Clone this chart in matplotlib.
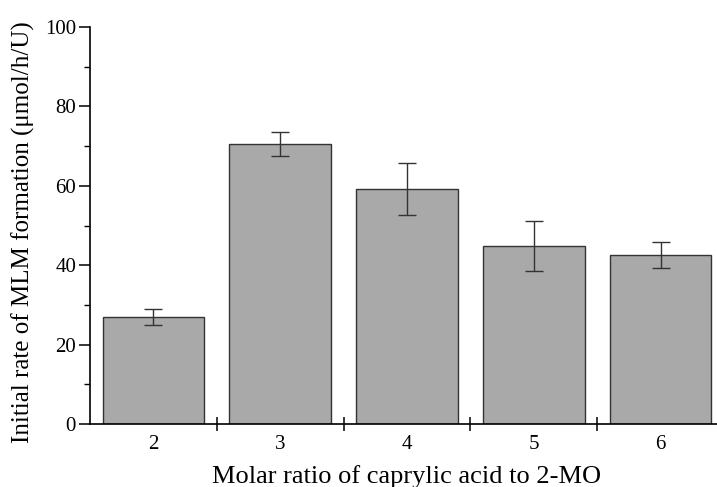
import matplotlib
matplotlib.use("Agg")
import matplotlib.pyplot as plt
from matplotlib.ticker import MultipleLocator, FixedLocator

categories = ["2", "3", "4", "5", "6"]
rates = [27.0, 70.6, 59.2, 44.9, 42.6]
errors = [2.0, 3.0, 6.6, 6.3, 3.3]

plt.rcParams['font.family'] = ['Liberation Serif', 'DejaVu Serif']

fig = plt.figure(figsize=(7.17, 4.87), dpi=100)
ax = fig.add_axes([90/717, 63/487, 634/717, 397/487])

x = list(range(2, 2 + len(categories)))
ax.bar(x, rates, width=0.8, color="#a9a9a9", edgecolor="#333333", linewidth=1.0,
       yerr=errors, capsize=6.5,
       error_kw=dict(ecolor="#333333", elinewidth=1.0, capthick=1.0))

ax.set_xlim(1.5, 6.5)
ax.set_ylim(0, 100)
ax.spines['top'].set_visible(False)
ax.spines['right'].set_visible(False)
ax.spines['left'].set_linewidth(1.2)
ax.spines['bottom'].set_linewidth(1.2)

ax.set_xticks(x)
ax.set_xticklabels(categories)
ax.xaxis.set_minor_locator(FixedLocator([2.5, 3.5, 4.5, 5.5]))
ax.tick_params(axis='x', which='major', length=0, pad=8, labelsize=15)
ax.tick_params(axis='x', which='minor', direction='inout', length=10, width=1.1)

ax.yaxis.set_major_locator(MultipleLocator(20))
ax.yaxis.set_minor_locator(MultipleLocator(10))
ax.tick_params(axis='y', which='major', direction='out', length=8, width=1.1, labelsize=15, pad=2)
ax.tick_params(axis='y', which='minor', direction='out', length=4.5, width=1.0)

ax.set_xlabel("Molar ratio of caprylic acid to 2-MO", fontsize=19)
ax.set_ylabel("Initial rate of MLM formation (\u03bcmol/h/U)", fontsize=18)
ax.xaxis.set_label_coords(0.5, -0.103)
ax.yaxis.set_label_coords(-0.086, 0.483)

fig.savefig("out.png", dpi=100)
